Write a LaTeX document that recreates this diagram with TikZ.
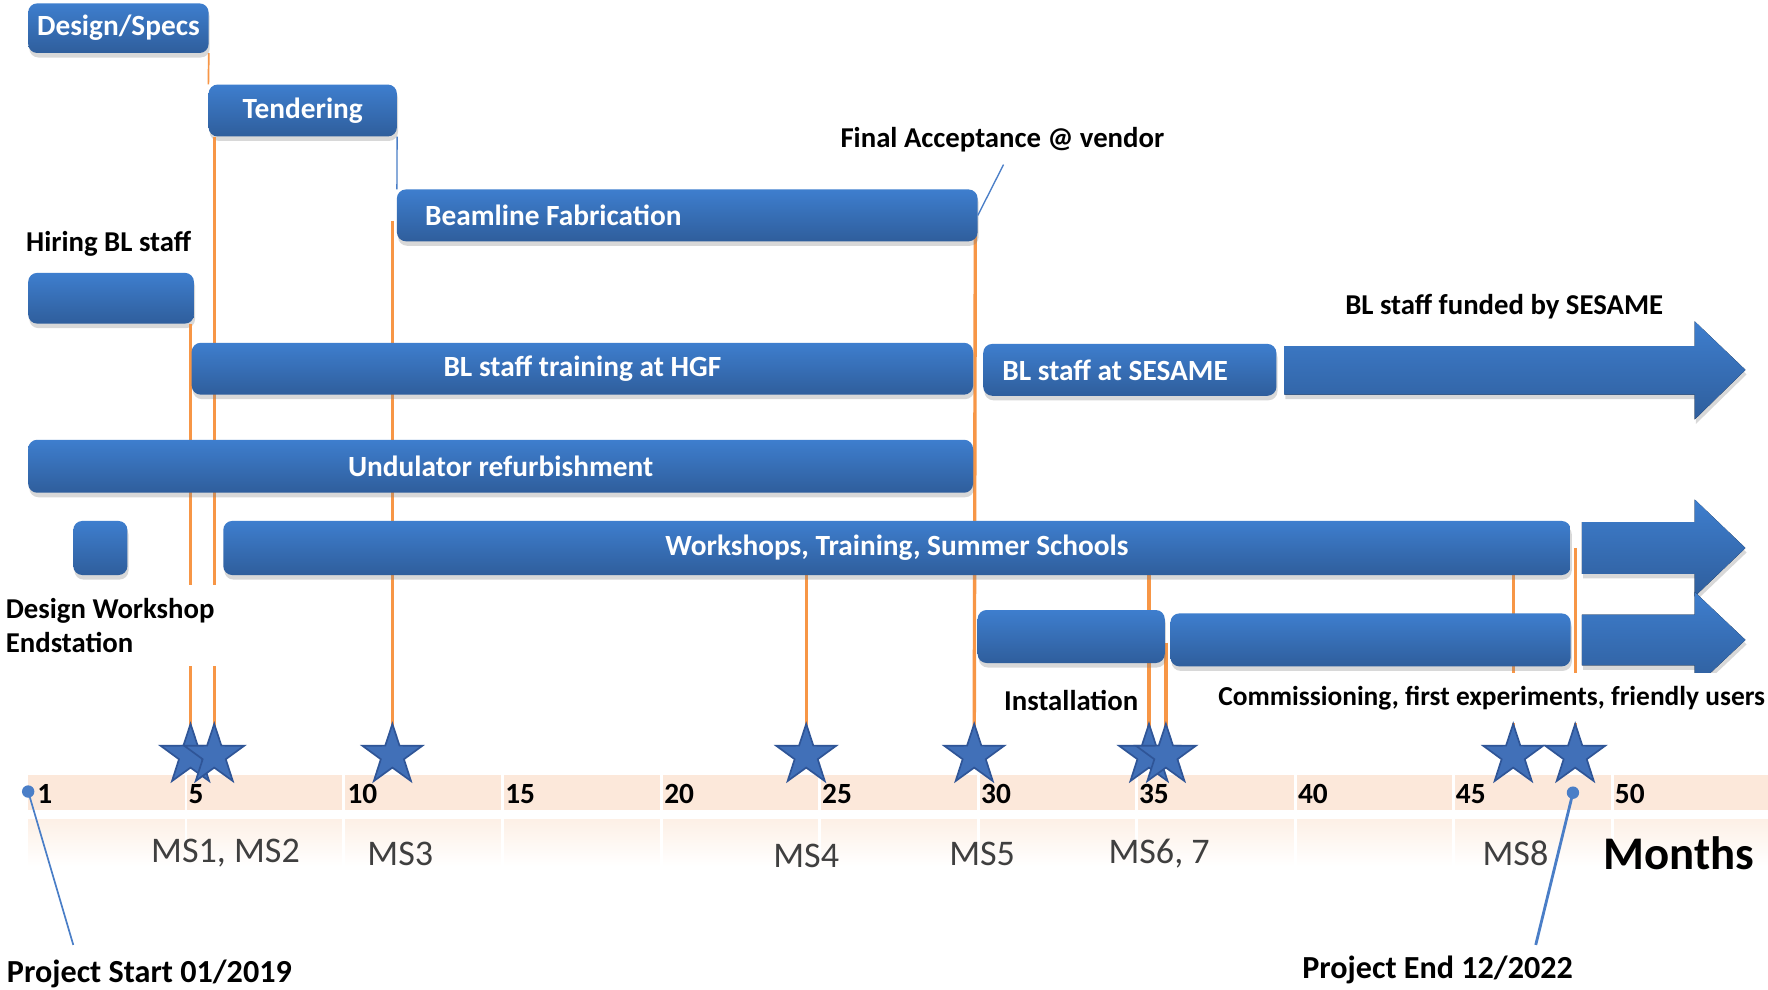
\documentclass[tikz,border=0pt]{standalone}
\usepackage{fontspec}
\setmainfont{Carlito}
\usetikzlibrary{shapes.geometric,shadows}
\definecolor{bartop}{HTML}{3E7ECE}
\definecolor{barbot}{HTML}{2F5E9C}
\definecolor{msorange}{HTML}{F79646}
\definecolor{starblue}{HTML}{4170B8}
\definecolor{stardark}{HTML}{2F5597}
\definecolor{band}{HTML}{FCE8DA}
\definecolor{bandlight}{HTML}{FDF0E6}
\definecolor{msgray}{HTML}{3F3F3F}
\definecolor{pinblue}{HTML}{4A7EC7}
\tikzset{
	bar/.style={rounded corners=8pt,top color=bartop,bottom color=barbot,text=white,
		font=\fontsize{26}{30}\selectfont\bfseries,inner sep=0pt,
		drop shadow={shadow xshift=1pt,shadow yshift=-4pt,opacity=0.3}},
	arrowbar/.style={top color=bartop,bottom color=barbot,
		drop shadow={shadow xshift=1pt,shadow yshift=-4pt,opacity=0.3}},
	lbl/.style={font=\fontsize{25.5}{30}\selectfont\bfseries,text=black,inner sep=2pt},
	msline/.style={msorange,line width=3pt},
	msstar/.style={star,star points=5,star point ratio=2.6,minimum size=56pt,inner sep=0pt,
		fill=starblue,draw=stardark,line width=1.5pt},
	num/.style={font=\fontsize{26}{28}\selectfont\bfseries,anchor=west,inner sep=0pt},
	mslbl/.style={font=\fontsize{32}{36}\selectfont,text=msgray},
	pin/.style={circle,fill=pinblue,inner sep=0pt,minimum size=11pt},
}
\begin{document}
\begin{tikzpicture}[x=1pt,y=-1pt]
	\useasboundingbox (0,0) rectangle (1568,878);
	\fill[white] (0,0) rectangle (1568,878);
		\fill[band] (25,687) rectangle (1568,718);
		\shade[top color=bandlight,bottom color=white] (25,727) rectangle (1568,768);
		\draw[white,line width=2.5pt] (165,687)--(165,768) (305,687)--(305,768) (446,687)--(446,768)
			(587,687)--(587,768) (727,687)--(727,768) (868,687)--(868,768) (1008,687)--(1008,768)
			(1149,687)--(1149,768) (1289,687)--(1289,768) (1430,687)--(1430,768);
		\draw[white,line width=8pt] (25,722)--(1568,722);
			\node[num] (n1) at (33,704) {1};
			\node[num] (n5) at (167,704) {5};
			\node[num] (n10) at (308,704) {10};
			\node[num] (n15) at (448,704) {15};
			\node[num] (n20) at (589,704) {20};
			\node[num] (n25) at (729,704) {25};
			\node[num] (n30) at (870,704) {30};
			\node[num] (n35) at (1010,704) {35};
			\node[num] (n40) at (1151,704) {40};
			\node[num] (n45) at (1291,704) {45};
			\node[num] (n50) at (1432,704) {50};
	\coordinate (s1) at (169,670);
	\coordinate (s2) at (190,670);
	\coordinate (s3) at (348,670);
	\coordinate (s4) at (715,670);
	\coordinate (s5) at (864,670);
	\coordinate (s6) at (1019,670);
	\coordinate (s7) at (1034,670);
	\coordinate (s8) at (1342,670);
	\coordinate (s9) at (1397,670);
		\node[bar,minimum width=160pt,minimum height=44pt] (design) at (105,25) {Design/Specs};
		\node[bar,minimum width=167pt,minimum height=46pt] (tender) at (268.5,98) {Tendering};
		\node[bar,minimum width=147pt,minimum height=45pt] (hire) at (98.5,264.5) {};
		\node[bar,minimum width=48pt,minimum height=48pt] (dws) at (89,486) {};
			\draw[msline,line width=1.5pt] (design.south east)--(tender.north west);
			\draw[pinblue,line width=1.2pt] (tender.south east)--(352,168);
			\draw[msline] (s1 |- hire.south)--(s1);
			\draw[msline] (s2 |- tender.south)--(s2);
			\draw[msline] (348,196)--(s3);
			\draw[msline] (865,196)--(s5);
			\draw[msline] (715,486)--(s4);
			\draw[msline] (1019,486)--(s6);
			\draw[msline] (1034,570)--(s7);
			\draw[msline] (1342,486)--(s8);
			\draw[msline] (1397,486)--(s9);
		\node[bar,minimum width=515pt,minimum height=46pt,text width=465pt,align=flush left] (beam) at (609.5,191) {Beamline Fabrication};
		\node[bar,minimum width=693pt,minimum height=46pt] (train) at (516.5,327) {BL staff training at HGF};
		\node[bar,minimum width=260pt,minimum height=46pt,text width=226pt,align=flush left] (sesame) at (1002,328) {BL staff at SESAME};
		\node[bar,minimum width=838pt,minimum height=47pt] (undul) at (444,413.5) {Undulator refurbishment};
		\node[bar,minimum width=1195pt,minimum height=48pt] (wshop) at (795.5,486) {Workshops, Training, Summer Schools};
		\node[bar,minimum width=166pt,minimum height=47pt] (inst) at (950,564.5) {};
		\node[bar,minimum width=355pt,minimum height=47pt] (comm) at (1215.5,567.5) {};
			\fill[arrowbar] (1139,307)--(1503,307)--(1503,285)--(1548,328)--(1503,372)--(1503,350)--(1139,350)--cycle;
			\fill[arrowbar] (1403,463)--(1503,463)--(1503,443)--(1548,486)--(1503,529)--(1503,509)--(1403,509)--cycle;
			\fill[arrowbar] (1403,545)--(1503,545)--(1503,525)--(1548,567.5)--(1503,610)--(1503,590)--(1403,590)--cycle;
	\coordinate (facc) at (890,146);
	\draw[pinblue,line width=1.2pt] (beam.east)--(facc);
		\node[lbl] (faccl) at (889,124) {Final Acceptance @ vendor};
		\node[lbl,anchor=west] (hirel) at (21,216) {Hiring BL staff};
		\node[lbl] (fundl) at (1334,272) {BL staff funded by SESAME};
		\node[lbl,anchor=west,align=left,fill=white,inner ysep=12pt,inner xsep=3pt] (dwsl) at (2,555) {Design Workshop\\Endstation};
		\node[lbl] (instl) at (950,621) {Installation};
		\node[lbl,font=\fontsize{24.3}{30}\selectfont\bfseries,fill=white,minimum height=44pt] (comml) at (1323,619) {Commissioning, first experiments, friendly users};
			\node[msstar] (m1) at (s1) {};
			\node[msstar] (m2) at (s2) {};
			\node[msstar] (m3) at (s3) {};
			\node[msstar] (m4) at (s4) {};
			\node[msstar] (m5) at (s5) {};
			\node[msstar] (m6) at (s6) {};
			\node[msstar] (m7) at (s7) {};
			\node[msstar] (m8) at (s8) {};
			\node[msstar] (m9) at (s9) {};
		\node[mslbl] (ms12) at (200,757) {MS1, MS2};
		\node[mslbl] (ms3) at (355,757) {MS3};
		\node[mslbl] (ms4) at (715,759) {MS4};
		\node[mslbl] (ms5) at (871,757) {MS5};
		\node[mslbl] (ms67) at (1028,757) {MS6, 7};
		\node[mslbl] (ms8) at (1344,757) {MS8};
		\node[font=\fontsize{41.5}{46}\selectfont\bfseries] (months) at (1489,757) {Months};
	\node[pin] (pstart) at (25,702) {};
	\coordinate (pstartend) at (65,838);
	\draw[pinblue,line width=1.5pt] (pstart.center)--(pstartend);
	\node[pin] (pend) at (1395,703) {};
	\coordinate (pendend) at (1362,838);
	\draw[pinblue,line width=2.5pt] (pend.center)--(pendend);
		\node[lbl,font=\fontsize{28.5}{32}\selectfont\bfseries,anchor=west] (startl) at (4,864) {Project Start 01/2019};
		\node[lbl,font=\fontsize{28.5}{32}\selectfont\bfseries] (endl) at (1275,860) {Project End 12/2022};
\end{tikzpicture}
\end{document}
